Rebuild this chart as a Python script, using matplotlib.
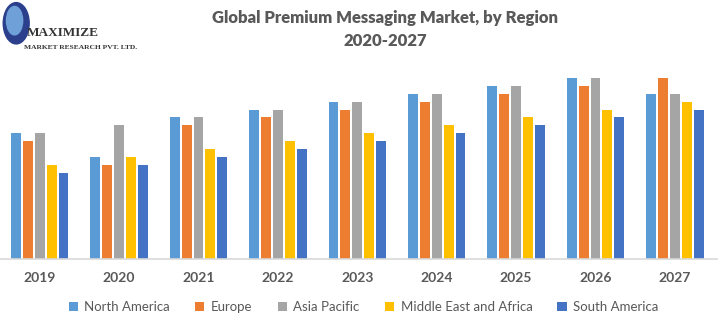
import matplotlib.pyplot as plt
import numpy as np
from matplotlib.patches import Ellipse

years = ['2019', '2020', '2021', '2022', '2023', '2024', '2025', '2026', '2027']
north_america = [12.6, 10.2, 14.2, 14.9, 15.7, 16.5, 17.3, 18.1, 16.5]
europe = [11.8, 9.4, 13.4, 14.2, 14.9, 15.7, 16.5, 17.3, 18.1]
asia_pacific = [12.6, 13.4, 14.2, 14.9, 15.7, 16.5, 17.3, 18.1, 16.5]
mea = [9.4, 10.2, 11.0, 11.8, 12.6, 13.4, 14.2, 14.9, 15.7]
south_america = [8.6, 9.4, 10.2, 11.0, 11.8, 12.6, 13.4, 14.2, 14.9]

names = ['North America', 'Europe', 'Asia Pacific', 'Middle East and Africa', 'South America']
series = [north_america, europe, asia_pacific, mea, south_america]
colors = ['#5B9BD5', '#ED7D31', '#A5A5A5', '#FFC000', '#4472C4']
txt = '#595959'

plt.rcParams['font.family'] = ['Lato', 'DejaVu Sans']

fig = plt.figure(figsize=(7.2, 3.23), dpi=100)
ax = fig.add_axes([0, 64 / 323, 717 / 720, 199 / 323])

x = np.arange(len(years))
w = 0.125
step = 0.15
for i in range(5):
    ax.bar(x + (i - 2) * step, series[i], width=w, color=colors[i], label=names[i])

ax.set_xlim(-0.5, len(years) - 0.5 + 0.03)
ax.set_ylim(0, 19.9)
ax.set_yticks([])
ax.set_xticks(x)
ax.set_xticklabels(years, fontsize=10, fontweight='bold', color=txt)
ax.tick_params(axis='x', length=0, pad=9)
for s in ['top', 'right', 'left']:
    ax.spines[s].set_visible(False)
ax.spines['bottom'].set_color('#D9D9D9')
ax.spines['bottom'].set_linewidth(1.2)

fig.text(0.535, 0.945, 'Global Premium Messaging Market, by Region', ha='center', va='center',
         fontsize=12, fontweight='heavy', color=txt)
fig.text(0.535, 0.873, '2020-2027', ha='center', va='center',
         fontsize=12, fontweight='heavy', color=txt)

# logo
lax = fig.add_axes([0, 0.84, 0.045, 0.16])
lax.set_xlim(0, 1)
lax.set_ylim(0, 1)
lax.axis('off')
lax.add_patch(Ellipse((0.5, 0.55), 0.8, 0.8, color='#2B3F8C'))
lax.add_patch(Ellipse((0.45, 0.6), 0.5, 0.55, color='#6FA0D8'))
fig.text(0.037, 0.898, 'MAXIMIZE', fontsize=9.5, fontweight='bold', va='center',
         family='Liberation Serif', color='#333333')
fig.text(0.034, 0.854, 'MARKET RESEARCH PVT. LTD.', fontsize=5.4, fontweight='bold', va='center',
         family='Liberation Serif', color='#333333')

fig.legend(loc='center', bbox_to_anchor=(0.505, 0.05), ncol=5, frameon=False,
           fontsize=9.5, labelcolor=txt, handlelength=0.7, handleheight=0.7,
           columnspacing=1.9, handletextpad=0.5)

fig.savefig('out.png', dpi=100)
